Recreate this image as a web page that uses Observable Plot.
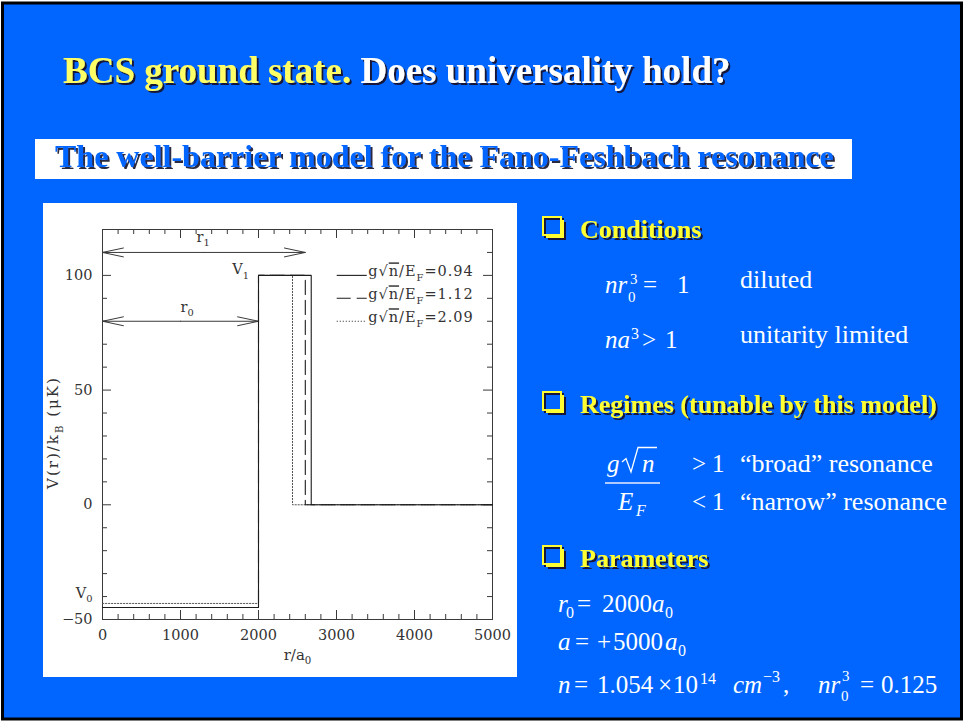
<!DOCTYPE html>
<html>
<head>
<meta charset="utf-8">
<script src="https://cdn.jsdelivr.net/npm/d3@7"></script>
<script src="https://cdn.jsdelivr.net/npm/@observablehq/plot@0.6"></script>
<style>
  html, body { margin: 0; padding: 0; background: #ffffff; }
  #slide { position: absolute; left: 0; top: 0; width: 965px; height: 723px; overflow: hidden; }
  #art { position: absolute; left: 0; top: 0; }
  #chart { position: absolute; left: 43px; top: 203px; width: 474px; height: 474px; background: #ffffff; }
  .serif { font-family: "Liberation Serif", "Times New Roman", serif; }
</style>
</head>
<body>
<div id="slide">
  <svg id="art" width="965" height="723" class="serif">
    <defs>
      <filter id="shadowNavy" x="-5%" y="-30%" width="115%" height="170%">
        <feDropShadow dx="2" dy="2" stdDeviation="0.3" flood-color="#14143a" flood-opacity="1"/>
      </filter>
      <filter id="shadowGrey" x="-5%" y="-30%" width="115%" height="170%">
        <feDropShadow dx="2" dy="2" stdDeviation="0.3" flood-color="#2b2b40" flood-opacity="1"/>
      </filter>
    </defs>
    <rect x="0" y="0" width="965" height="723" fill="#ffffff"/>
    <rect x="2.5" y="3" width="959" height="716" fill="#0066ff" stroke="#000000" stroke-width="3"/>

    <!-- slide title -->
    <g font-weight="bold" font-size="37" filter="url(#shadowNavy)">
      <text x="63" y="83"><tspan fill="#ffff66">BCS ground state.</tspan><tspan fill="#ffffff"> Does universality hold?</tspan></text>
    </g>

    <!-- subtitle banner -->
    <rect x="35" y="139" width="817" height="40" fill="#ffffff"/>
    <g font-weight="bold" font-size="32" filter="url(#shadowGrey)">
      <text x="55" y="167" fill="#0066ff">The well-barrier model for the Fano-Feshbach resonance</text>
    </g>

    <!-- bullet headings are appended by script -->
    <g id="headings"></g>

    <!-- conditions -->
    <g fill="#ffffff" font-size="25">
      <text y="293"><tspan x="605" font-style="italic">nr</tspan><tspan x="628" y="302" font-size="15">0</tspan><tspan x="630" y="284" font-size="15">3</tspan><tspan x="643" y="293">=</tspan><tspan x="677" y="293">1</tspan></text>
      <text x="740" y="288" font-size="26">diluted</text>
      <text y="348"><tspan x="605" font-style="italic">na</tspan><tspan x="631" y="339" font-size="16">3</tspan><tspan x="642" y="348">&gt;</tspan><tspan x="665" y="348">1</tspan></text>
      <text x="740" y="343" font-size="26">unitarity limited</text>
    </g>

    <!-- regimes -->
    <g fill="#ffffff" font-size="25">
      <text y="472"><tspan x="607" font-style="italic">g</tspan><tspan x="642" font-style="italic">n</tspan></text>
      <path d="M622,462 L626,458.5 L631,472 L638,447.5 L657,447.5" fill="none" stroke="#ffffff" stroke-width="1.3"/>
      <line x1="605" x2="660" y1="483" y2="483" stroke="#e8ecff" stroke-width="1.6"/>
      <text y="510"><tspan x="618" font-style="italic">E</tspan><tspan x="636" y="516" font-size="16" font-style="italic">F</tspan></text>
      <text y="472"><tspan x="692">&gt;</tspan><tspan x="712">1</tspan></text>
      <text y="510"><tspan x="692">&lt;</tspan><tspan x="712">1</tspan></text>
      <text x="740" y="472" font-size="26">“broad” resonance</text>
      <text x="740" y="510" font-size="26">“narrow” resonance</text>
    </g>

    <!-- parameters -->
    <g fill="#ffffff" font-size="25">
      <text y="612"><tspan x="558" font-style="italic">r</tspan><tspan x="566" y="618" font-size="16">0</tspan><tspan x="577" y="612">=</tspan><tspan x="602" y="612">2000</tspan><tspan x="652" y="612" font-style="italic">a</tspan><tspan x="665" y="618" font-size="16">0</tspan></text>
      <text y="650"><tspan x="558" font-style="italic">a</tspan><tspan x="575">=</tspan><tspan x="597">+</tspan><tspan x="613">5000</tspan><tspan x="665" font-style="italic">a</tspan><tspan x="678" y="656" font-size="16">0</tspan></text>
      <text y="693"><tspan x="558" font-style="italic">n</tspan><tspan x="574">=</tspan><tspan x="597">1.054</tspan><tspan x="658">×</tspan><tspan x="673">10</tspan><tspan x="700" y="684" font-size="16">14</tspan><tspan x="733" y="693" font-style="italic">cm</tspan><tspan x="763" y="682" font-size="16">−3</tspan><tspan x="783" y="693">,</tspan><tspan x="818" y="693" font-style="italic">nr</tspan><tspan x="841" y="701" font-size="15">0</tspan><tspan x="842" y="681" font-size="15">3</tspan><tspan x="860" y="693">=</tspan><tspan x="881" y="693">0.125</tspan></text>
    </g>
  </svg>
  <div id="chart"></div>
</div>

<script>
// Well-barrier potential V(r) for three coupling strengths g√n/E_F.
const couplings = ["0.94", "1.12", "2.09"];      // g√n/E_F of each profile
const wellDepth = [-44.8, -44.8, -43.0];         // V0 (μK)
const barrierHeight = [100, 100, 100];           // V1 (μK)
const barrierEnd = [2676, 2600, 2436];           // r1 (a0)
const wellEdge = 2000;                           // r0 (a0)
const rMax = 5000;                               // outer end of the r axis (a0)

const xTickLabels = [0, 1000, 2000, 3000, 4000, 5000];
const yTickLabels = [-50, 0, 50, 100];
const xMinorTicks = d3.range(0, 5001, 200).filter(v => v % 1000 !== 0);
const yMinorTicks = d3.range(-50, 121, 10).filter(v => v % 50 !== 0);

// Bullet headings on the right of the slide
const headings = [
  {text: "Conditions", y: 238},
  {text: "Regimes (tunable by this model)", y: 413},
  {text: "Parameters", y: 567}
];

const NS = "http://www.w3.org/2000/svg";
function el(name, attrs, parent) {
  const e = document.createElementNS(NS, name);
  for (const k in attrs) e.setAttribute(k, attrs[k]);
  if (parent) parent.appendChild(e);
  return e;
}
const hg = document.getElementById("headings");
for (const h of headings) {
  const bx = 543, by = h.y - 21;
  const g = el("g", {filter: "url(#shadowNavy)"}, hg);
  // square bullet with its built-in drop edge
  el("rect", {x: bx, y: by, width: 18, height: 18, fill: "none", stroke: "#ffff33", "stroke-width": 2}, g);
  el("rect", {x: bx + 18, y: by + 3, width: 3, height: 18, fill: "#ffff33"}, g);
  el("rect", {x: bx + 3, y: by + 18, width: 18, height: 3, fill: "#ffff33"}, g);
  el("text", {x: 580, y: h.y, fill: "#ffff33", "font-weight": "bold", "font-size": 26}, g).textContent = h.text;
}

// Step profiles built from the parameters above
const profiles = couplings.map((g, i) => [
  {r: 0, V: wellDepth[i]},
  {r: wellEdge, V: wellDepth[i]},
  {r: wellEdge, V: barrierHeight[i]},
  {r: barrierEnd[i], V: barrierHeight[i]},
  {r: barrierEnd[i], V: 0},
  {r: rMax, V: 0}
]);

const styles = [
  {stroke: "#1c1c1c", dash: null, width: 1.1},
  {stroke: "#1c1c1c", dash: "14,6", width: 1.1},
  {stroke: "#555555", dash: "1.3,1.7", width: 1}
];
const legendRows = [100, 90, 80];

const W = 474, H = 474;
const M = {top: 26, right: 25, bottom: 58, left: 59};
const frameW = W - M.left - M.right;
const frameH = H - M.top - M.bottom;
const ink = "#3a3a3a";
const fmt = d3.format("d");

const marks = [
  Plot.frame({stroke: ink}),
  // inward ticks on all four sides
  Plot.tickX(xMinorTicks, {x: d => d, insetTop: frameH - 5, stroke: ink}),
  Plot.tickX(xTickLabels, {x: d => d, insetTop: frameH - 9, stroke: ink}),
  Plot.tickX(xMinorTicks, {x: d => d, insetBottom: frameH - 5, stroke: ink}),
  Plot.tickX(xTickLabels, {x: d => d, insetBottom: frameH - 9, stroke: ink}),
  Plot.tickY(yMinorTicks, {y: d => d, insetRight: frameW - 5, stroke: ink}),
  Plot.tickY(yTickLabels, {y: d => d, insetRight: frameW - 9, stroke: ink}),
  Plot.tickY(yMinorTicks, {y: d => d, insetLeft: frameW - 5, stroke: ink}),
  Plot.tickY(yTickLabels, {y: d => d, insetLeft: frameW - 9, stroke: ink}),
  Plot.axisX({ticks: xTickLabels, tickFormat: fmt, tickSize: 0, tickPadding: 10, label: null}),
  Plot.axisY({ticks: yTickLabels, tickFormat: fmt, tickSize: 0, tickPadding: 10, label: null}),
  Plot.text(["r/a_0"], {frameAnchor: "bottom", textAnchor: "middle", lineAnchor: "bottom", dy: 40, fontSize: 15, letterSpacing: 1}),
  Plot.text(["V(r)/k_B (μK)"], {frameAnchor: "left", textAnchor: "middle", lineAnchor: "middle", rotate: -90, dx: -49, dy: 8, fontSize: 15}),
  Plot.text(["V_0"], {x: 0, y: -38.5, textAnchor: "end", dx: -10}),
  Plot.text(["V_1"], {x: wellEdge - 230, y: 102.5}),
  // r0 and r1 double-headed arrows
  Plot.arrow([{a: wellEdge / 2, b: 0}, {a: wellEdge / 2, b: wellEdge}],
    {x1: "a", x2: "b", y1: 80, y2: 80, stroke: ink, strokeWidth: 1, headLength: 32, headAngle: 24}),
  Plot.arrow([{a: barrierEnd[1] / 2, b: 0}, {a: barrierEnd[1] / 2, b: barrierEnd[1]}],
    {x1: "a", x2: "b", y1: 110, y2: 110, stroke: ink, strokeWidth: 1, headLength: 32, headAngle: 24}),
  Plot.text(["r_0"], {x: 1086, y: 86.2}),
  Plot.text(["r_1"], {x: 1291, y: 116.7})
];

// curves, drawn dotted first so the solid one sits on top
for (const i of [2, 1, 0]) {
  const s = styles[i];
  marks.push(Plot.line(profiles[i], {x: "r", y: "V", stroke: s.stroke, strokeWidth: s.width, strokeDasharray: s.dash}));
  marks.push(Plot.ruleY([legendRows[i]], {x1: 3009, x2: 3394, stroke: s.stroke, strokeWidth: s.width, strokeDasharray: s.dash}));
  marks.push(Plot.text([`g√n/E_F=${couplings[i]}`], {x: 3406, y: legendRows[i], textAnchor: "start", lineAnchor: "bottom", dy: 1}));
}

const chart = Plot.plot({
  width: W,
  height: H,
  marginTop: M.top,
  marginRight: M.right,
  marginBottom: M.bottom,
  marginLeft: M.left,
  x: {domain: [0, rMax]},
  y: {domain: [-50, 120]},
  style: {fontFamily: "'DejaVu Serif', serif", fontSize: "14.5px", color: "#333333", background: "#ffffff"},
  marks
});
document.getElementById("chart").appendChild(chart);

// Render "_x" as subscripts and "√x" as a radical with an overbar.
function typeset(svg) {
  for (const t of svg.querySelectorAll("text")) {
    const s = t.textContent;
    if (!/[_√]/.test(s)) continue;
    const fs = parseFloat(getComputedStyle(t).fontSize) || 14.5;
    t.textContent = "";
    let shift = 0;
    for (const p of s.split(/(_.|√.)/).filter(Boolean)) {
      if (p[0] === "√") {
        const r = el("tspan", {dy: -shift}, t); r.textContent = "√"; shift = 0;
        const n = el("tspan", {"text-decoration": "overline"}, t); n.textContent = p[1];
        continue;
      }
      const sub = p[0] === "_";
      const target = sub ? 0.32 * fs : 0;
      const ts = el("tspan", {dy: target - shift}, t);
      shift = target;
      if (sub) ts.setAttribute("font-size", 0.68 * fs);
      ts.textContent = sub ? p[1] : p;
    }
  }
}
typeset(chart);
// the Hershey-style lettering of the original plot runs wide
for (const t of chart.querySelectorAll("text")) {
  const s = t.textContent;
  if (s.startsWith("g√")) t.setAttribute("letter-spacing", "1");
  if (s.startsWith("V(r)")) t.setAttribute("letter-spacing", "2");
}
</script>
</body>
</html>
